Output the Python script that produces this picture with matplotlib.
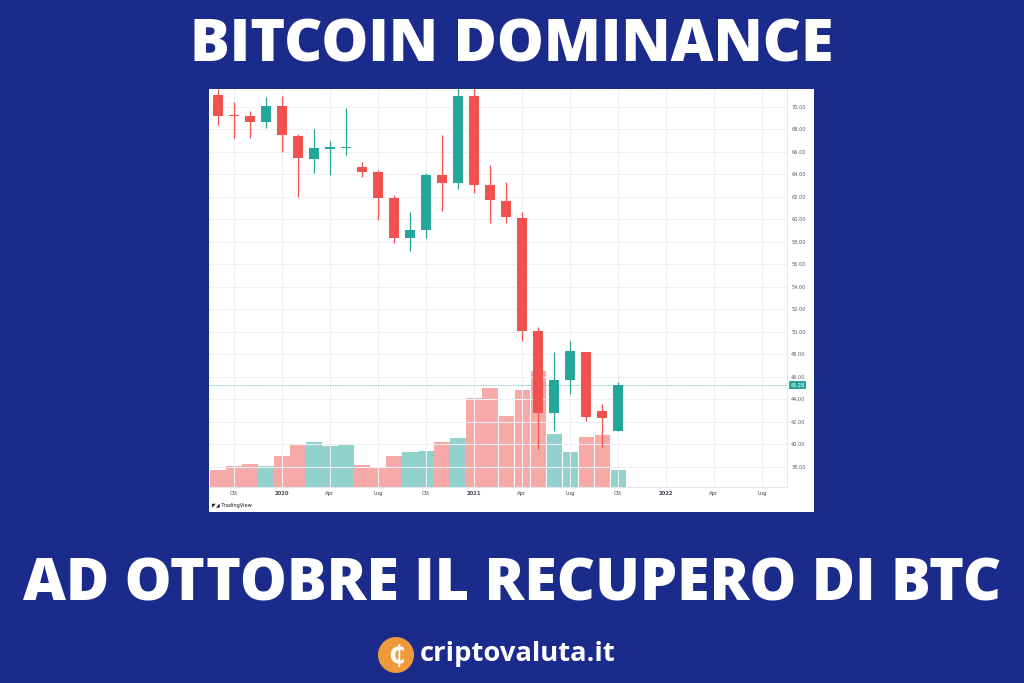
import matplotlib
matplotlib.use("Agg")
import matplotlib.pyplot as plt
from matplotlib.patches import Rectangle, Ellipse
import numpy as np

# ---------------- data ----------------
months = ["2019-09", "2019-10", "2019-11", "2019-12", "2020-01", "2020-02", "2020-03",
          "2020-04", "2020-05", "2020-06", "2020-07", "2020-08", "2020-09", "2020-10",
          "2020-11", "2020-12", "2021-01", "2021-02", "2021-03", "2021-04", "2021-05",
          "2021-06", "2021-07", "2021-08", "2021-09", "2021-10"]
opens = [71.07, 69.25, 69.20, 68.70, 70.06, 67.45, 65.41, 66.33, 66.40, 64.64, 64.22, 61.88, 58.33,
         59.10, 63.96, 63.27, 70.95, 63.07, 61.64, 60.16, 50.12, 42.77, 45.73, 48.22, 42.95, 41.17]
highs = [71.60, 70.42, 69.64, 70.89, 70.98, 67.57, 68.04, 66.98, 69.88, 65.14, 64.40, 62.18, 60.64,
         64.13, 67.51, 71.80, 71.90, 64.84, 63.36, 60.64, 50.48, 48.22, 49.23, 48.22, 43.60, 45.56]
lows = [68.40, 67.27, 67.27, 68.10, 66.03, 62.00, 64.13, 63.96, 65.73, 63.75, 59.98, 57.94, 57.20,
        58.33, 60.78, 62.68, 62.38, 59.72, 59.66, 49.20, 39.60, 41.17, 44.52, 42.12, 39.80, 41.17]
closes = [69.20, 69.20, 68.64, 70.06, 67.48, 65.47, 66.33, 66.40, 66.45, 64.25, 61.91, 58.33, 59.10,
          63.93, 63.27, 70.98, 63.10, 61.73, 60.19, 50.12, 42.77, 45.73, 48.31, 42.47, 42.33, 45.28]
volumes = [16.7, 21.0, 22.7, 21.0, 30.7, 42.7, 45.0, 41.3, 43.3, 22.0, 19.7, 30.7, 35.0,
           36.0, 45.3, 49.3, 88.7, 99.3, 71.0, 97.3, 116.0, 53.3, 34.7, 50.0, 52.0, 16.7]
last_price = 45.28

x_tick_idx = [1, 4, 7, 10, 13, 16, 19, 22, 25, 28, 31, 34]
x_tick_labels = ["Ott", "2020", "Apr", "Lug", "Ott", "2021", "Apr", "Lug", "Ott", "2022", "Apr", "Lug"]
y_ticks = list(range(38, 72, 2))

title = "BITCOIN DOMINANCE"
subtitle = "AD OTTOBRE IL RECUPERO DI BTC"
brand = "criptovaluta.it"

# ---------------- style ----------------
BG = "#1b2b8b"
RED = "#ef5350"
GREEN = "#26a69a"
RED_V = "#f7a9a7"
GREEN_V = "#92d2cc"
GRID = "#eef0f5"

W, H = 1024, 683
fig = plt.figure(figsize=(W / 100, H / 100), dpi=100)
fig.patch.set_facecolor(BG)

def fx(px):
    return px / W

def fy(py):
    return 1 - py / H

# white chart panel
fig.patches.append(Rectangle((fx(209), fy(512)), fx(814) - fx(209), fy(89) - fy(512),
                             transform=fig.transFigure, facecolor="white", edgecolor="none", zorder=0))

rect = [fx(210), fy(487), fx(787) - fx(210), fy(89) - fy(487)]
ax_v = fig.add_axes(rect, zorder=1)
ax = fig.add_axes(rect, zorder=2)
ax.patch.set_alpha(0)
ax_v.patch.set_alpha(0)

x = np.arange(len(months))
xlim = (-0.5, 35.56)

# volume
vcols = [GREEN_V if c >= o else RED_V for o, c in zip(opens, closes)]
ax_v.bar(x, volumes, width=0.94, color=vcols, edgecolor="none")
ax_v.set_xlim(*xlim)
ax_v.set_ylim(0, 398)
ax_v.axis("off")

# grid
for t in x_tick_idx:
    ax.axvline(t, color=GRID, lw=0.8, zorder=0)
for t in y_ticks:
    ax.axhline(t, color=GRID, lw=0.8, zorder=0)

# candles
ccols = [GREEN if c >= o else RED for o, c in zip(opens, closes)]
ax.vlines(x, lows, highs, colors=ccols, lw=0.9, zorder=3)
bodies = [max(abs(c - o), 0.12) for o, c in zip(opens, closes)]
bottoms = [min(o, c) if abs(c - o) >= 0.12 else (o + c) / 2 - 0.06 for o, c in zip(opens, closes)]
ax.bar(x, bodies, bottom=bottoms, width=0.66, color=ccols, edgecolor="none", zorder=4)

# last price line
ax.axhline(last_price, color=GREEN, lw=0.6, ls=(0, (1.5, 1.5)), alpha=0.8, zorder=2)

ax.set_xlim(*xlim)
ax.set_ylim(36.22, 71.6)
ax.yaxis.tick_right()
ax.set_yticks(y_ticks)
ax.set_yticklabels([f"{v:.2f}" for v in y_ticks], fontsize=3.6, color="#555a66")
ax.set_xticks(x_tick_idx)
ax.set_xticklabels(x_tick_labels, fontsize=3.8, color="#444a55")
for lbl in ax.get_xticklabels():
    if lbl.get_text().isdigit():
        lbl.set_fontweight("bold")
ax.tick_params(axis="both", length=0, pad=3)
for s in ["top", "left"]:
    ax.spines[s].set_visible(False)
ax.spines["right"].set_color("#e0e3eb")
ax.spines["bottom"].set_color("#e0e3eb")
ax.spines["right"].set_linewidth(0.6)
ax.spines["bottom"].set_linewidth(0.6)

# last price label
ax.text(1.006, last_price, f"{last_price:.2f}", transform=ax.get_yaxis_transform(),
        fontsize=3.6, color="white", va="center", ha="left",
        bbox=dict(boxstyle="square,pad=0.25", fc=GREEN, ec="none"), zorder=6, clip_on=False)

# tradingview mark
fig.text(fx(212), fy(505), "\u25e4\u25e2 TradingView", fontsize=3.6, color="#131722",
         va="center", ha="left")

# titles
fig.text(0.5, fy(46.5), title, fontsize=42.6, fontweight="heavy", family="Open Sans",
         color="white", ha="center", va="center")
fig.text(0.5, fy(585), subtitle, fontsize=42.6, fontweight="heavy", family="Open Sans",
         color="white", ha="center", va="center")

# brand logo
fig.patches.append(Ellipse((fx(396), fy(655)), 36 / W, 36 / H, transform=fig.transFigure,
                           facecolor="#ee9a3a", edgecolor="none"))
fig.text(fx(396), fy(656), "\u20b5", fontsize=17, fontweight="bold", color="white",
         ha="center", va="center", family="DejaVu Sans")
fig.text(fx(420), fy(654), brand, fontsize=19.7, fontweight="bold", family="Open Sans",
         color="white", ha="left", va="center")

fig.savefig("out.png", dpi=100, facecolor=BG)
